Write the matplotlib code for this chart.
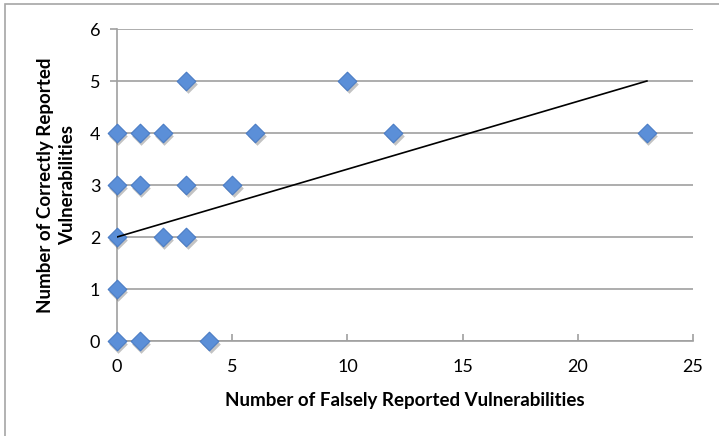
import numpy as np
import matplotlib
matplotlib.use("Agg")
import matplotlib.pyplot as plt
import matplotlib.transforms as mtransforms
from matplotlib.patches import Rectangle

plt.rcParams['font.family'] = ['Lato', 'DejaVu Sans']

# data
false_reported = [3, 10, 0, 1, 2, 6, 12, 23, 0, 1, 3, 5, 0, 2, 3, 0, 0, 1, 4]
correct_reported = [5, 5, 4, 4, 4, 4, 4, 4, 3, 3, 3, 3, 2, 2, 2, 1, 0, 0, 0]
trend_x = [0, 23]
trend_y = [2, 5]
x_ticks = [0, 5, 10, 15, 20, 25]
y_ticks = [0, 1, 2, 3, 4, 5, 6]

fig = plt.figure(figsize=(7.19, 4.36), dpi=100)
ax = fig.add_axes([117 / 719, 1 - 341 / 436, (693 - 117) / 719, (341 - 29) / 436])

# light border around the chart area
fig.patches.append(Rectangle((5 / 719, -0.1), 2, 1 - 4 / 436 + 0.1, transform=fig.transFigure,
                             fill=False, edgecolor="#a6a6a6", linewidth=1.2))

ax.set_xlim(0, 25)
ax.set_ylim(0, 6)
ax.set_xticks(x_ticks)
ax.set_yticks(y_ticks)
ax.grid(axis="y", color="#a0a0a0", linewidth=1.2)
ax.set_axisbelow(True)

for s in ["top", "right"]:
    ax.spines[s].set_visible(False)
for s in ["left", "bottom"]:
    ax.spines[s].set_color("#a0a0a0")
    ax.spines[s].set_linewidth(1.2)
ax.tick_params(axis="y", direction="out", length=5, width=1.2, color="#a0a0a0", labelsize=13, pad=7)
ax.tick_params(axis="x", direction="in", length=5, width=1.2, color="#a0a0a0", labelsize=13, pad=13)

# shadow under the markers
shadow = mtransforms.offset_copy(ax.transData, fig=fig, x=1.0, y=-2.5, units="points")
ax.scatter(false_reported, correct_reported, marker="D", s=90, color="#555555", alpha=0.35,
           linewidths=0, transform=shadow, zorder=3, clip_on=False)
ax.scatter(false_reported, correct_reported, marker="D", s=90, color="#5b8fd8",
           edgecolors="#4a7cc4", linewidths=0.8, zorder=4, clip_on=False)
ax.plot(trend_x, trend_y, color="black", linewidth=1.2, zorder=5)

ax.set_xlabel("Number of Falsely Reported Vulnerabilities", fontsize=13.5, fontweight="bold", labelpad=12)
ax.set_ylabel("Number of Correctly Reported\nVulnerabilities", fontsize=13.5, fontweight="bold",
              labelpad=10, linespacing=1.35)

fig.savefig("out.png", dpi=100)
